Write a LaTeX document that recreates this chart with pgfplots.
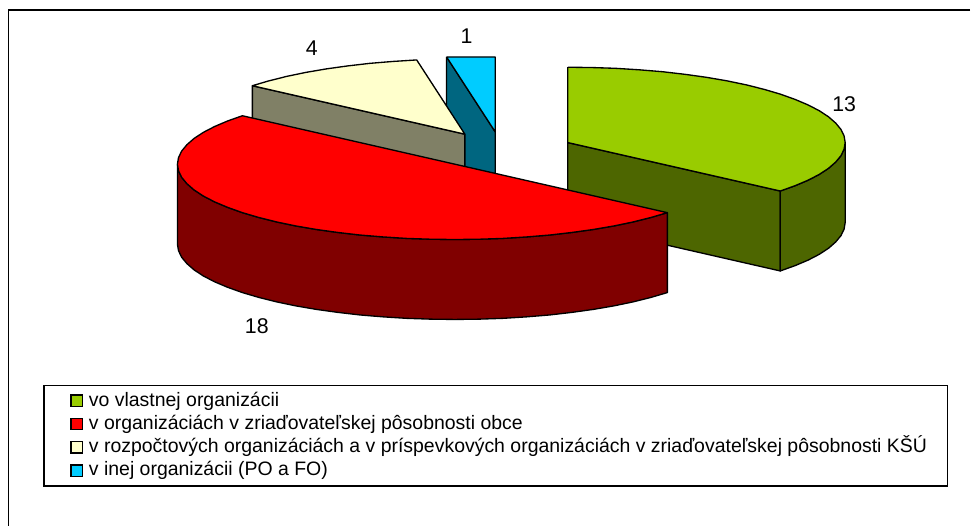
\documentclass[border=0pt]{standalone}
\usepackage{pgfplots}
\pgfplotsset{compat=1.18}
\usepackage{fontspec}
\setmainfont{Liberation Sans}
\definecolor{cgreen}{HTML}{99CC00}
\definecolor{cgreend}{HTML}{4D6600}
\definecolor{cred}{HTML}{FF0000}
\definecolor{credd}{HTML}{800000}
\definecolor{cyel}{HTML}{FFFFCC}
\definecolor{cyeld}{HTML}{808066}
\definecolor{ccyan}{HTML}{00CCFF}
\definecolor{ccyand}{HTML}{006680}
\pgfplotsset{slice/.style={draw=black,line width=1pt,line join=round,forget plot}}
\begin{document}
\begin{tikzpicture}
\begin{axis}[
  scale only axis, width=728.25pt, height=395.25pt,
  xmin=0,xmax=971,ymin=0,ymax=527,y dir=reverse,
  hide axis, clip=false,
  legend style={at={(axis cs:43.5,385)},anchor=north west,draw=black,line width=1.1pt,
    font=\fontsize{14.6pt}{16pt}\selectfont,
    inner xsep=0pt,inner ysep=4pt,row sep=2.5pt,
    nodes={inner xsep=2pt,inner ysep=0pt,text height=11.5pt,text depth=3.5pt},
    /tikz/every even column/.style={column sep=2pt}},
  legend cell align=left,
  legend image code/.code={
    \draw[#1,draw=black,line width=1pt] (19.7pt,-4.2pt) rectangle (28pt,4.2pt);
    \path (0pt,0pt) (30.5pt,0pt);
  },
]
\path (axis cs:0,0) (axis cs:971,527);
\addlegendimage{fill=cgreen}
\addlegendentry{vo vlastnej organizácii}
\addlegendimage{fill=cred}
\addlegendentry{v organizáciách v zriaďovateľskej pôsobnosti obce}
\addlegendimage{fill=cyel}
\addlegendentry{v rozpočtových organizáciách a v príspevkových organizáciách v zriaďovateľskej pôsobnosti KŠÚ\hspace*{13.5pt}}
\addlegendimage{fill=ccyan}
\addlegendentry{v inej organizácii (PO a FO)}
% outer frame (top and left show)
\addplot[draw=black,line width=1.4pt,forget plot] coordinates {(971,10)(8.5,10)(8.5,527)};
% value 1
\addplot[slice,fill=ccyand] coordinates {(447,57)(495.7,132)(495.7,174)(447,164)(447,57)};
\addplot[slice,fill=ccyan] coordinates {(447,57)(495.7,57)(495.7,132)(447,57)};
% value 4
\addplot[slice,fill=cyeld] coordinates {(252.6,85.8)(465.3,134.3)(465.3,175)(252.6,126)(252.6,85.8)};
\addplot[slice,fill=cyel] coordinates {(465.3,134.3)(417.1,60)(393.4,61.5)(370.3,63.4)(347.9,66)(326.4,69)(306,72.5)(286.8,76.5)(268.9,81)(252.6,85.8)(465.3,134.3)};
% value 13
\addplot[slice,fill=cgreend] coordinates {(568.3,142.7)(781,191.2)(781,271.2)(568.3,222.7)(568.3,142.7)};
\addplot[slice,fill=cgreend] coordinates {(781,191.2)(795.8,185.9)(808.8,180.4)(820,174.6)(829.3,168.5)(836.5,162.2)(841.8,155.8)(844.9,149.3)(846,142.7)(846,222.7)(844.9,229.3)(841.8,235.8)(836.5,242.2)(829.3,248.5)(820,254.6)(808.8,260.4)(795.8,265.9)(781,271.2)(781,191.2)};
\addplot[slice,fill=cgreen] coordinates {(568.3,67.3)(592.5,67.6)(616.5,68.4)(640.2,69.9)(663.3,71.8)(685.7,74.4)(707.2,77.4)(727.6,80.9)(746.8,84.9)(764.7,89.4)(781,94.2)(795.8,99.5)(808.8,105)(820,110.8)(829.3,116.9)(836.5,123.2)(841.8,129.6)(844.9,136.1)(846,142.7)(844.9,149.3)(841.8,155.8)(836.5,162.2)(829.3,168.5)(820,174.6)(808.8,180.4)(795.8,185.9)(781,191.2)(568.3,142.7)(568.3,67.3)};
% value 18
\addplot[slice,fill=credd] coordinates {(177.6,164.35)(178.7,170.95)(181.8,177.45)(187.1,183.85)(194.3,190.15)(203.6,196.25)(214.8,202.05)(227.8,207.55)(242.6,212.85)(258.9,217.65)(276.8,222.15)(296,226.15)(316.4,229.65)(337.9,232.65)(360.3,235.25)(383.4,237.15)(407.1,238.65)(431.1,239.45)(455.3,239.75)(479.5,239.45)(503.5,238.65)(527.2,237.15)(550.3,235.25)(572.7,232.65)(594.2,229.65)(614.6,226.15)(633.8,222.15)(651.7,217.65)(668,212.85)(668,292.85)(651.7,297.65)(633.8,302.15)(614.6,306.15)(594.2,309.65)(572.7,312.65)(550.3,315.25)(527.2,317.15)(503.5,318.65)(479.5,319.45)(455.3,319.75)(431.1,319.45)(407.1,318.65)(383.4,317.15)(360.3,315.25)(337.9,312.65)(316.4,309.65)(296,306.15)(276.8,302.15)(258.9,297.65)(242.6,292.85)(227.8,287.55)(214.8,282.05)(203.6,276.25)(194.3,270.15)(187.1,263.85)(181.8,257.45)(178.7,250.95)(177.6,244.35)(177.6,164.35)};
\addplot[slice,fill=cred] coordinates {(242.6,115.85)(227.8,121.1)(214.8,126.65)(203.6,132.45)(194.3,138.55)(187.1,144.85)(181.8,151.25)(178.7,157.75)(177.6,164.35)(178.7,170.95)(181.8,177.45)(187.1,183.85)(194.3,190.15)(203.6,196.25)(214.8,202.05)(227.8,207.55)(242.6,212.85)(258.9,217.65)(276.8,222.15)(296,226.15)(316.4,229.65)(337.9,232.65)(360.3,235.25)(383.4,237.15)(407.1,238.65)(431.1,239.45)(455.3,239.75)(479.5,239.45)(503.5,238.65)(527.2,237.15)(550.3,235.25)(572.7,232.65)(594.2,229.65)(614.6,226.15)(633.8,222.15)(651.7,217.65)(668,212.85)(242.6,115.85)};
% value labels
\node[font=\fontsize{16pt}{18pt}\selectfont] at (axis cs:845,104) {13};
\node[font=\fontsize{16pt}{18pt}\selectfont] at (axis cs:257,326) {18};
\node[font=\fontsize{16pt}{18pt}\selectfont] at (axis cs:312,48) {4};
\node[font=\fontsize{16pt}{18pt}\selectfont] at (axis cs:467,36) {1};
\end{axis}
\end{tikzpicture}
\end{document}
